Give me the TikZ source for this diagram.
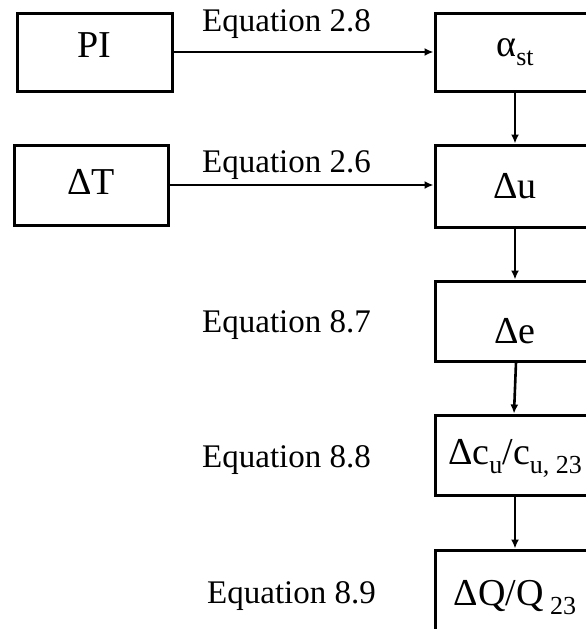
\documentclass[tikz,border=0pt]{standalone}
\usepackage{fontspec}
\setmainfont{Liberation Serif}
\usetikzlibrary{arrows.meta}
\newcommand\sbx[1]{\raisebox{-0.24em}{\fontsize{26}{26}\selectfont #1}}
\tikzset{
  box/.style={draw, line width=3pt, rectangle, inner sep=0pt, font=\fontsize{38}{40}\selectfont},
  lbox/.style={box, minimum width=155pt, minimum height=78pt},
  rbox/.style={box, minimum width=160pt, minimum height=80pt},
  eqlabel/.style={anchor=base west, inner sep=0pt, font=\fontsize{33}{36}\selectfont},
  conn/.style={line width=2.6pt, -{Latex[length=9pt,width=8pt]}}
}
\begin{document}
\begin{tikzpicture}[x=1pt,y=-1pt]
\useasboundingbox (0,0) rectangle (586,629);
\clip (0,0) rectangle (586,629);
% left boxes
\node[lbox, text depth=14pt] (pi) at (94.5,52) {PI};
\node[lbox, minimum width=154pt, minimum height=80pt, text depth=6pt] (dT) at (91,185) {ΔT};
% right column
\node[rbox, minimum height=78pt] (ast) at (515,52) {α\sbx{st}};
\node[rbox, minimum height=82pt] (du) at (515,186) {Δu};
\node[rbox, text height=46pt] (de) at (515,321) {Δe};
\node[rbox, text depth=6pt] (dc) at (515,455) {Δc\sbx{u}/c\sbx{u, 23}};
\node[rbox, text depth=0pt, text height=30pt] (dq) at (515,590) {ΔQ/Q\,\sbx{23}};
% labels
\node[eqlabel] (e28) at (202,31) {Equation 2.8};
\node[eqlabel] (e26) at (202,172) {Equation 2.6};
\node[eqlabel] (e87) at (202,332) {Equation 8.7};
\node[eqlabel] (e88) at (202,467) {Equation 8.8};
\node[eqlabel] (e89) at (207,603) {Equation 8.9};
% connectors
\draw[conn] (pi.east) -- (ast.west);
\draw[conn] (dT.east) -- (dT.east -| du.west);
\draw[conn] (ast.south) -- (du.north);
\draw[conn] (du.south) -- (de.north);
\draw[conn] ([xshift=1pt]de.south) -- ([xshift=-1pt]dc.north);
\draw[conn] (dc.south) -- (dq.north);
\end{tikzpicture}
\end{document}
